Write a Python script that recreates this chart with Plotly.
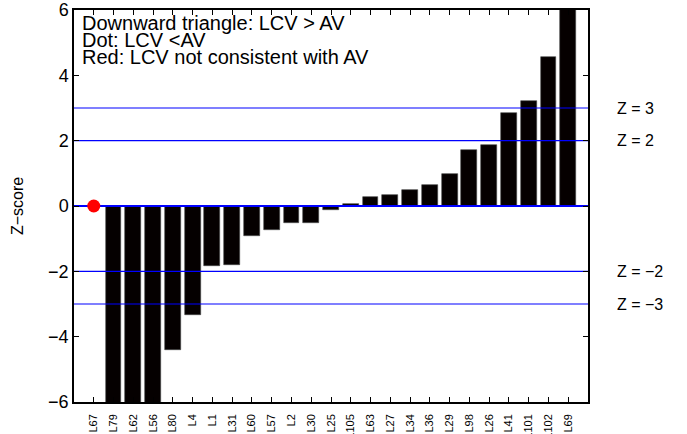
import plotly.graph_objects as go

labels = ["L67", "L79", "L62", "L56", "L80", "L4", "L1", "L31", "L60", "L57", "L2", "L30", "L25",
          "L105", "L63", "L27", "L34", "L36", "L29", "L98", "L26", "L41", "L101", "L102", "L69"]
zscores = [0.0, -8.0, -8.0, -8.0, -4.40, -3.35, -1.84, -1.82, -0.92, -0.72, -0.52, -0.52, -0.12,
           0.05, 0.27, 0.34, 0.49, 0.65, 0.99, 1.71, 1.87, 2.86, 3.22, 4.55, 6.5]
dot_labels = ["L67"]
dot_values = [0.0]
z_lines = [3, 2, 0, -2, -3]
z_line_text = ["Z = 3", "Z = 2", None, "Z = \u22122", "Z = \u22123"]
notes = ["Downward triangle: LCV > AV", "Dot: LCV <AV", "Red: LCV not consistent with AV"]
note_y = [5.60, 5.09, 4.57]
yticks = [-6, -4, -2, 0, 2, 4, 6]

FONT = "Liberation Sans, Arial, Helvetica, sans-serif"
xs = list(range(1, len(labels) + 1))

fig = go.Figure()
fig.add_trace(go.Bar(x=xs, y=zscores, width=0.8, marker=dict(color="#050000", line=dict(color="#444", width=0.6)),
                     showlegend=False, hoverinfo="skip"))
for z in z_lines:
    fig.add_trace(go.Scatter(x=[0, len(labels) + 1], y=[z, z], mode="lines",
                             line=dict(color="#0000ff", width=2.2 if z == 0 else 1.2),
                             showlegend=False, hoverinfo="skip"))
fig.add_trace(go.Scatter(x=[labels.index(l) + 1 for l in dot_labels], y=dot_values, mode="markers",
                         marker=dict(color="#ff0000", size=13), showlegend=False, cliponaxis=False,
                         hoverinfo="skip"))

for t, yv in zip(notes, note_y):
    fig.add_annotation(x=0.3, y=yv, xref="x", yref="y", text=t, showarrow=False,
                       xanchor="left", yanchor="middle", font=dict(size=20, color="black", family=FONT))
for z, t in zip(z_lines, z_line_text):
    if t:
        fig.add_annotation(x=1.053, y=z, xref="paper", yref="y", text=t, showarrow=False,
                           xanchor="left", yanchor="middle", font=dict(size=16, color="black", family=FONT))

fig.update_layout(
    width=687, height=434,
    margin=dict(l=74, r=99, t=10, b=32),
    plot_bgcolor="white", paper_bgcolor="white",
    font=dict(family=FONT, color="black"),
    bargap=0,
)
fig.update_xaxes(range=[0, len(labels) + 1], tickmode="array", tickvals=xs, ticktext=labels,
                 tickangle=-90, tickfont=dict(size=11), ticks="inside", ticklen=5, tickcolor="black",
                 showline=True, linecolor="black", linewidth=1.5, mirror="ticks", showgrid=False,
                 zeroline=False, ticklabelstandoff=6, automargin=False)
fig.update_yaxes(range=[-6, 6], tickmode="array", tickvals=yticks,
                 ticktext=[str(v).replace("-", "\u2212") for v in yticks],
                 tickfont=dict(size=18), ticks="inside", ticklen=5, tickcolor="black",
                 showline=True, linecolor="black", linewidth=1.5, mirror="ticks", showgrid=False,
                 zeroline=False, automargin=False,
                 title=dict(text="Z\u2212score", font=dict(size=16), standoff=21))

fig.write_html("out.html", config={"displayModeBar": False},
               post_script="document.body.style.margin='0';")
